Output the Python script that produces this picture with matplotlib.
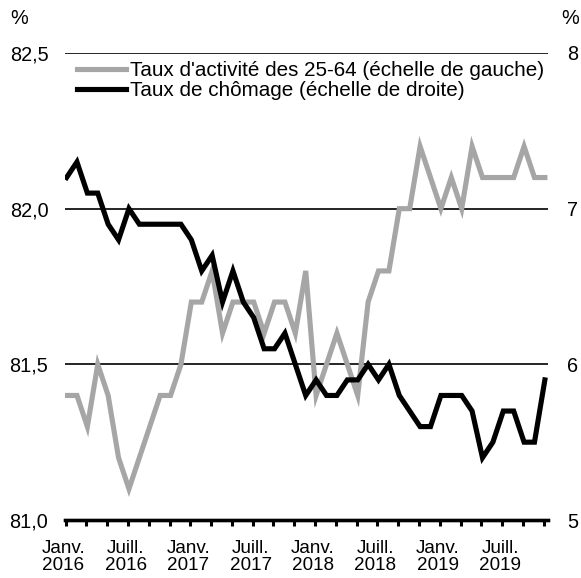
import matplotlib.pyplot as plt
import numpy as np

plt.rcParams['font.family'] = ['Liberation Sans', 'DejaVu Sans']

# Monthly series, Jan 2016 -> Nov 2019
activite = [81.4, 81.4, 81.3, 81.5, 81.4, 81.2, 81.1, 81.2, 81.3, 81.4, 81.4, 81.5,
            81.7, 81.7, 81.8, 81.6, 81.7, 81.7, 81.7, 81.6, 81.7, 81.7, 81.6, 81.8,
            81.4, 81.5, 81.6, 81.5, 81.4, 81.7, 81.8, 81.8, 82.0, 82.0, 82.2, 82.1,
            82.0, 82.1, 82.0, 82.2, 82.1, 82.1, 82.1, 82.1, 82.2, 82.1, 82.1]
chomage = [7.2, 7.3, 7.1, 7.1, 6.9, 6.8, 7.0, 6.9, 6.9, 6.9, 6.9, 6.9,
           6.8, 6.6, 6.7, 6.4, 6.6, 6.4, 6.3, 6.1, 6.1, 6.2, 6.0, 5.8,
           5.9, 5.8, 5.8, 5.9, 5.9, 6.0, 5.9, 6.0, 5.8, 5.7, 5.6, 5.6,
           5.8, 5.8, 5.8, 5.7, 5.4, 5.5, 5.7, 5.7, 5.5, 5.5, 5.9]

left_ticks = [81.0, 81.5, 82.0, 82.5]
right_ticks = [5, 6, 7, 8]
xlabels = ['Janv.\n2016', 'Juill.\n2016', 'Janv.\n2017', 'Juill.\n2017',
           'Janv.\n2018', 'Juill.\n2018', 'Janv.\n2019', 'Juill.\n2019']

lab_act = "Taux d'activité des 25-64 (échelle de gauche)"
lab_cho = "Taux de chômage (échelle de droite)"

FS = 14.3
grey = '#a6a6a6'

fig = plt.figure(figsize=(5.81, 5.78), dpi=100)
ax = fig.add_axes([65 / 581, 1 - 520 / 578, 483 / 581, 467 / 578])
ax2 = ax.twinx()

x = np.arange(len(activite))
l1, = ax.plot(x, activite, color=grey, lw=3.7, solid_joinstyle='miter')
l2, = ax2.plot(x, chomage, color='black', lw=3.7, solid_joinstyle='miter')

for v in left_ticks[1:]:
    ax.axhline(v, color='black', lw=1.2, zorder=0)

ax.set_xlim(-0.15, 46.3)
ax.set_ylim(81.0, 82.5)
ax2.set_ylim(5, 8)

for a in (ax, ax2):
    for s in ('left', 'right', 'top'):
        a.spines[s].set_visible(False)
    a.spines['bottom'].set_linewidth(2.4)

ax.set_xticks(np.arange(0, 47, 2) - 0.1)
ax.set_xticklabels([])
ax.tick_params(axis='x', direction='out', length=4, width=2.2, color='black')
ax2.tick_params(axis='x', length=0)

ax.set_yticks(left_ticks)
ax.set_yticklabels([f'{v:.1f}'.replace('.', ',') for v in left_ticks], fontsize=FS)
ax.tick_params(axis='y', length=0, pad=12)
ax2.set_yticks(right_ticks)
ax2.set_yticklabels([str(v) for v in right_ticks], fontsize=FS)
ax2.tick_params(axis='y', length=0, pad=14)

# one label every 6 months
for k, lab in enumerate(xlabels):
    ax.text(6 * k - 0.3, -0.043, lab, transform=ax.get_xaxis_transform(), ha='center',
            va='top', fontsize=13.6, linespacing=1.0)

fig.text(10 / 581, 1 - 18 / 578, '%', fontsize=FS, ha='left', va='center')
fig.text(561 / 581, 1 - 18 / 578, '%', fontsize=FS, ha='left', va='center')

ax2.legend([l1, l2], [lab_act, lab_cho], loc='upper left', bbox_to_anchor=(0.024, 0.982),
           frameon=False, fontsize=14.9, handlelength=2.4, handletextpad=0.2,
           borderpad=0, borderaxespad=0, labelspacing=0.05)

fig.savefig('out.png', dpi=100)
